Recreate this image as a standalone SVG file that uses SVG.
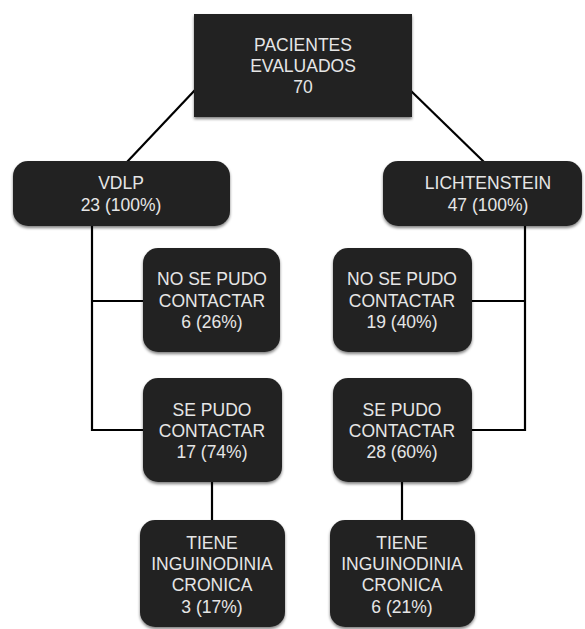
<svg xmlns="http://www.w3.org/2000/svg" width="585" height="629" viewBox="0 0 585 629">
<style>
.box{fill:#232323;filter:url(#sh)}
.t{fill:#e6e6e6;font-family:"Liberation Sans",Arial,sans-serif;font-size:17.5px;text-anchor:middle}
.c{stroke:#000;stroke-width:2.2;fill:none}
</style>
<defs>
<filter id="sh" x="-10%" y="-10%" width="120%" height="125%">
<feGaussianBlur in="SourceAlpha" stdDeviation="1.5"/>
<feOffset dx="0" dy="1.5" result="b"/>
<feComponentTransfer><feFuncA type="linear" slope="0.5"/></feComponentTransfer>
<feMerge><feMergeNode/><feMergeNode in="SourceGraphic"/></feMerge>
</filter>
</defs>
<rect width="585" height="629" fill="#fff"/>
<g id="connectors">
<line class="c" x1="195" y1="90" x2="127" y2="162"/>
<line class="c" x1="410" y1="90" x2="484" y2="162"/>
<polyline class="c" points="92,226 92,430 143,430"/>
<line class="c" x1="92" y1="301" x2="143" y2="301"/>
<polyline class="c" points="525,226 525,430 472,430"/>
<line class="c" x1="525" y1="301" x2="472" y2="301"/>
<line class="c" x1="212" y1="482" x2="212" y2="520"/>
<line class="c" x1="402" y1="482" x2="402" y2="520"/>
</g>
<g id="n-top">
<rect class="box" x="194" y="14" width="218" height="103"/>
<text class="t" x="303" y="51">PACIENTES</text>
<text class="t" x="303" y="72">EVALUADOS</text>
<text class="t" x="303" y="93">70</text>
</g>
<g id="n-vdlp">
<rect class="box" x="13" y="161" width="217" height="65" rx="15"/>
<text class="t" x="121" y="189">VDLP</text>
<text class="t" x="121" y="211">23 (100%)</text>
</g>
<g id="n-lich">
<rect class="box" x="383" y="161" width="199" height="65" rx="15"/>
<text class="t" x="488" y="189">LICHTENSTEIN</text>
<text class="t" x="488" y="211">47 (100%)</text>
</g>
<g id="n-vdlp-no">
<rect class="box" x="143" y="248" width="137" height="104" rx="15"/>
<text class="t" x="212" y="285">NO SE PUDO</text>
<text class="t" x="212" y="307">CONTACTAR</text>
<text class="t" x="212" y="328">6 (26%)</text>
</g>
<g id="n-lich-no">
<rect class="box" x="333" y="248" width="139" height="104" rx="15"/>
<text class="t" x="402" y="285">NO SE PUDO</text>
<text class="t" x="402" y="307">CONTACTAR</text>
<text class="t" x="402" y="328">19 (40%)</text>
</g>
<g id="n-vdlp-si">
<rect class="box" x="143" y="378" width="139" height="104" rx="15"/>
<text class="t" x="212" y="416">SE PUDO</text>
<text class="t" x="212" y="437">CONTACTAR</text>
<text class="t" x="212" y="458">17 (74%)</text>
</g>
<g id="n-lich-si">
<rect class="box" x="333" y="378" width="139" height="104" rx="15"/>
<text class="t" x="402" y="416">SE PUDO</text>
<text class="t" x="402" y="437">CONTACTAR</text>
<text class="t" x="402" y="458">28 (60%)</text>
</g>
<g id="n-vdlp-cr">
<rect class="box" x="140" y="520" width="145" height="107" rx="15"/>
<text class="t" x="212" y="549">TIENE</text>
<text class="t" x="212" y="570">INGUINODINIA</text>
<text class="t" x="212" y="591">CRONICA</text>
<text class="t" x="212" y="613">3 (17%)</text>
</g>
<g id="n-lich-cr">
<rect class="box" x="330" y="520" width="145" height="107" rx="15"/>
<text class="t" x="402" y="549">TIENE</text>
<text class="t" x="402" y="570">INGUINODINIA</text>
<text class="t" x="402" y="591">CRONICA</text>
<text class="t" x="402" y="613">6 (21%)</text>
</g>
</svg>
